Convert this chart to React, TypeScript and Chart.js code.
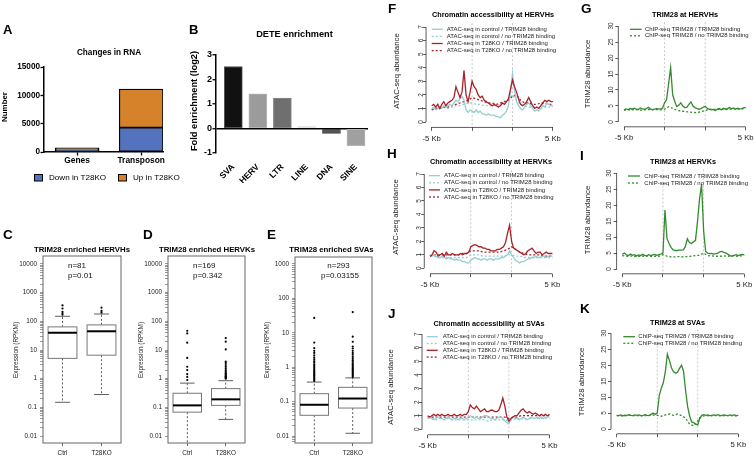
import React, { useEffect, useRef } from 'react';
import { Chart, registerables } from 'chart.js';

Chart.register(...registerables);

const W = 754;
const H = 458;
const FF = '"Liberation Sans", Arial, Helvetica, sans-serif';

// ---------------- Panel A : Changes in RNA ----------------
const rnaCategories = ['Genes', 'Transposon'];
const rnaDown = [300, 4300];
const rnaUp = [420, 6800];
const rnaTicks = [0, 5000, 10000, 15000];
const rnaLegend = ['Down in T28KO', 'Up in T28KO'];

// ---------------- Panel B : DETE enrichment ----------------
const teFamilies = ['SVA', 'HERV', 'LTR', 'LINE', 'DNA', 'SINE'];
const teEnrichment = [2.53, 1.42, 1.24, 0.1, -0.2, -0.7];
const teColors = ['#111111', '#9b9b9b', '#6f6f6f', '#dcdcdc', '#555555', '#a0a0a0'];
const teTicks = [-1, 0, 1, 2, 3];

// ---------------- Panels C-E : boxplots (lo, q1, median, q3, hi) ----------------
const boxGroups = ['Ctrl', 'T28KO'];
const hervhBoxCtrl = [0.15, 5.1, 40, 64, 150];
const hervhBoxKO = [0.28, 6.6, 45, 75, 180];
const hervhOutCtrl = [170, 190, 215, 280, 360];
const hervhOutKO = [200, 230, 300];
const hervkBoxCtrl = [0.003, 0.068, 0.117, 0.31, 0.7];
const hervkBoxKO = [0.038, 0.117, 0.19, 0.45, 0.85];
const hervkOutCtrl = [0.9, 1.15, 1.45, 2.0, 2.6, 5.3, 18, 38, 47];
const hervkOutKO = [1.0, 1.05, 1.1, 1.15, 1.2, 1.3, 1.4, 1.5, 1.6, 1.8, 2.0, 2.3, 2.6, 3.0, 3.5, 3.9, 10.5, 19.5, 26];
const svaBoxCtrl = [0.003, 0.04, 0.081, 0.17, 0.37];
const svaBoxKO = [0.012, 0.065, 0.123, 0.26, 0.49];
const svaOutCtrl = [0.4, 0.44, 0.48, 0.52, 0.56, 0.6, 0.65, 0.7, 0.76, 0.82, 0.9, 1.0, 1.1, 1.2, 1.35, 1.5, 1.7, 1.9, 2.2, 2.6, 3.0, 3.6, 5.2, 27];
const svaOutKO = [0.52, 0.56, 0.6, 0.65, 0.7, 0.75, 0.8, 0.86, 0.92, 1.0, 1.1, 1.2, 1.3, 1.45, 1.6, 1.8, 2.0, 2.3, 2.6, 3.0, 3.5, 4.0, 5.5, 7.7, 40];
const logMajor = [0.01, 0.1, 1, 10, 100, 1000, 10000];
const logMajorLabels = ['0.01', '0.1', '1', '10', '100', '1000', '10000'];

// ---------------- Panels F-K : profiles ----------------
// x positions: 0 = -5 Kb, 20 = element start, 40 = element end, 60 = +5 Kb
const profileTickPos = [0, 20, 40, 60];
const profileTickLabels = ['-5 Kb', '', '', '5 Kb'];
const atacTicks = [0, 1, 2, 3, 4, 5, 6, 7];
const chipTicks = [0, 5, 10, 15, 20, 25, 30];
const atacLegend = [
  'ATAC-seq in control / TRIM28 binding',
  'ATAC-seq in control / no TRIM28 binding',
  'ATAC-seq in T28KO / TRIM28 binding',
  'ATAC-seq in T28KO / no TRIM28 binding',
];
const chipLegend = ['ChIP-seq TRIM28 / TRIM28 binding', 'ChIP-seq TRIM28 / no TRIM28 binding'];

// F (HERVH ATAC) solid series: 61 points, dotted: 31 points (every 2nd position)
const hervhCtrlBind = [1.0, 1.1, 0.9, 1.0, 1.1, 1.0, 1.2, 1.1, 1.2, 1.3, 1.2, 1.4, 1.6, 1.5, 1.7, 1.9, 1.6, 0.9, 0.7, 0.9, 0.8, 0.7, 0.9, 0.7, 0.8, 0.6, 0.6, 0.5, 0.6, 0.5, 0.5, 0.5, 0.4, 0.4, 0.3, 0.5, 0.6, 0.8, 1.2, 2.2, 3.6, 2.3, 1.5, 1.2, 1.0, 0.9, 1.1, 1.3, 1.4, 1.2, 1.0, 0.8, 0.9, 0.8, 1.0, 1.2, 1.1, 1.4, 1.3, 1.2, 1.2];
const hervhKoBind = [1.2, 1.3, 1.1, 1.3, 1.0, 1.3, 1.5, 1.2, 1.4, 1.5, 1.6, 1.8, 2.6, 2.2, 1.8, 2.2, 3.8, 2.0, 1.5, 2.2, 3.0, 2.6, 2.4, 2.0, 1.8, 1.9, 1.6, 1.5, 1.4, 1.3, 1.2, 1.3, 1.2, 1.1, 1.2, 1.4, 1.3, 1.5, 1.7, 2.4, 3.1, 2.6, 2.2, 1.7, 1.3, 1.2, 1.3, 1.5, 1.8, 1.5, 1.2, 1.0, 1.1, 1.0, 1.2, 1.4, 1.6, 1.5, 1.6, 1.5, 1.5];
const hervhCtrlNoBind = [0.9, 1.0, 1.0, 1.1, 1.0, 1.1, 1.2, 1.2, 1.3, 1.4, 1.4, 1.3, 1.3, 1.2, 1.2, 1.2, 1.2, 1.3, 1.4, 1.6, 2.0, 1.6, 1.3, 1.2, 1.1, 1.1, 1.1, 1.0, 1.1, 1.1, 1.1];
const hervhKoNoBind = [0.9, 1.0, 1.0, 1.1, 1.1, 1.2, 1.3, 1.4, 1.5, 1.6, 1.8, 1.7, 1.6, 1.5, 1.4, 1.4, 1.3, 1.4, 1.5, 1.6, 1.9, 2.0, 1.6, 1.4, 1.4, 1.3, 1.3, 1.4, 1.4, 1.3, 1.3];

// H (HERVK ATAC)
const hervkCtrlBind = [1.0, 0.9, 1.0, 0.9, 0.8, 0.8, 0.9, 0.8, 0.7, 0.8, 0.7, 0.7, 0.6, 0.7, 0.6, 0.6, 0.5, 0.5, 0.4, 0.4, 0.6, 0.7, 0.8, 0.7, 0.7, 0.6, 0.7, 0.7, 0.6, 0.7, 0.7, 0.6, 0.7, 0.7, 0.7, 0.8, 0.8, 0.9, 1.0, 1.3, 1.0, 0.8, 0.6, 0.5, 0.4, 0.5, 0.5, 0.6, 0.7, 0.7, 0.8, 0.8, 0.9, 0.8, 0.8, 0.9, 0.9, 0.8, 0.9, 0.9, 0.9];
const hervkKoBind = [0.9, 1.0, 1.3, 1.2, 0.9, 1.0, 1.1, 0.9, 1.2, 1.0, 1.0, 1.1, 1.0, 1.0, 1.0, 1.1, 1.0, 1.1, 1.1, 1.2, 1.6, 1.7, 1.75, 1.7, 1.6, 1.6, 1.5, 1.5, 1.4, 1.4, 1.3, 1.3, 1.3, 1.4, 1.4, 1.5, 1.6, 1.9, 2.6, 3.2, 2.0, 1.5, 1.4, 1.3, 1.2, 1.1, 1.0, 1.1, 1.3, 1.4, 1.5, 1.3, 1.1, 1.2, 1.2, 1.0, 1.1, 1.2, 1.1, 1.1, 1.1];
const hervkCtrlNoBind = [0.9, 0.9, 0.8, 0.8, 0.8, 0.8, 0.8, 0.8, 0.8, 0.8, 1.0, 1.0, 1.0, 0.9, 0.9, 0.9, 0.9, 0.9, 0.9, 1.0, 1.0, 0.9, 0.9, 0.8, 0.8, 0.8, 0.8, 0.8, 0.8, 0.8, 0.8];
const hervkKoNoBind = [0.9, 1.0, 1.0, 1.0, 1.0, 1.0, 1.0, 1.0, 1.1, 1.1, 1.3, 1.3, 1.3, 1.2, 1.2, 1.2, 1.2, 1.2, 1.3, 1.4, 1.6, 1.4, 1.2, 1.1, 1.0, 1.0, 1.0, 1.0, 0.9, 0.9, 0.9];

// J (SVA ATAC)
const svaCtrlBind = [0.8, 0.9, 0.8, 0.7, 0.8, 0.9, 0.8, 0.8, 0.7, 0.8, 0.9, 0.8, 0.7, 0.8, 0.8, 0.7, 0.8, 0.8, 0.7, 0.8, 0.9, 1.0, 0.9, 0.8, 0.9, 0.8, 0.8, 0.9, 1.0, 1.0, 0.9, 0.8, 0.8, 0.7, 0.8, 0.9, 0.9, 0.8, 0.6, 0.5, 0.4, 0.7, 0.9, 0.8, 0.8, 0.7, 0.8, 0.9, 0.8, 0.7, 0.8, 0.9, 0.8, 0.8, 0.9, 0.8, 0.9, 0.8, 0.9, 0.9, 0.9];
const svaKoBind = [1.0, 0.9, 1.0, 1.1, 1.0, 1.1, 1.0, 1.1, 1.0, 1.0, 1.1, 1.0, 1.0, 1.1, 1.0, 1.0, 1.1, 1.0, 1.1, 1.1, 1.3, 1.8, 1.6, 1.5, 1.7, 1.5, 1.3, 1.4, 1.5, 1.3, 1.3, 1.4, 1.4, 1.3, 1.3, 1.4, 1.8, 2.3, 1.7, 0.9, 0.6, 0.8, 0.9, 1.0, 1.0, 1.2, 1.4, 1.5, 1.3, 1.2, 1.3, 1.2, 1.1, 1.2, 1.1, 1.0, 1.1, 1.0, 1.1, 1.0, 1.1];
const svaCtrlNoBind = [0.8, 0.8, 0.7, 0.8, 0.7, 0.8, 0.7, 0.7, 0.7, 0.7, 0.7, 0.7, 0.7, 0.7, 0.7, 0.6, 0.7, 0.7, 0.7, 0.7, 0.6, 0.7, 0.8, 0.8, 0.7, 0.8, 0.8, 0.8, 0.8, 0.8, 0.8];
const svaKoNoBind = [0.9, 0.9, 0.9, 0.9, 0.9, 0.9, 0.9, 0.9, 0.9, 0.9, 0.9, 0.9, 0.9, 0.9, 0.9, 0.9, 0.9, 0.9, 0.9, 0.9, 0.8, 0.9, 0.9, 1.0, 1.0, 1.0, 1.0, 1.0, 1.0, 1.0, 1.0];

// G (HERVH TRIM28 ChIP)
const hervhChipBind = [3.8, 4.1, 3.9, 4.2, 4.0, 4.3, 4.0, 3.9, 4.4, 4.1, 4.0, 4.2, 4.6, 4.1, 3.9, 4.0, 4.2, 4.1, 4.0, 4.3, 6.0, 7.0, 12, 17, 8.5, 6.5, 4.8, 5.2, 6.0, 5.0, 4.5, 4.6, 5.5, 6.3, 5.0, 4.5, 4.2, 4.0, 4.2, 4.6, 4.9, 4.3, 4.0, 3.8, 3.9, 3.6, 4.0, 4.2, 3.8, 4.3, 4.0, 4.2, 4.5, 4.1, 4.4, 4.0, 4.3, 4.1, 4.2, 4.4, 4.6];
const hervhChipNoBind = [3.7, 3.8, 3.8, 3.9, 3.7, 3.8, 3.9, 3.8, 3.9, 3.8, 4.0, 4.8, 4.3, 3.7, 3.4, 3.3, 3.1, 3.0, 2.9, 3.2, 3.6, 4.0, 3.9, 3.9, 4.0, 3.9, 4.0, 4.1, 4.0, 4.1, 4.2];

// I (HERVK TRIM28 ChIP)
const hervkChipBind = [4.6, 5.0, 4.4, 4.2, 4.7, 4.3, 4.5, 4.1, 4.4, 4.2, 4.6, 4.3, 4.1, 4.5, 4.2, 4.4, 4.6, 4.3, 4.5, 4.7, 5.0, 18.5, 9.5, 8.0, 6.8, 6.0, 5.8, 5.8, 5.9, 5.9, 6.0, 7.0, 9.5, 8.3, 8.0, 8.5, 9.0, 15, 22, 26.5, 12, 5.5, 5.0, 4.8, 4.9, 4.7, 4.8, 5.0, 5.4, 5.5, 5.2, 5.0, 4.6, 4.2, 4.0, 4.3, 4.5, 4.2, 4.4, 4.6, 4.5];
const hervkChipNoBind = [4.2, 4.0, 4.1, 3.9, 4.0, 4.0, 4.1, 3.9, 4.0, 4.0, 4.5, 4.0, 3.8, 3.8, 3.9, 3.8, 3.9, 4.0, 4.2, 4.3, 5.0, 4.2, 4.1, 4.0, 4.0, 4.1, 4.0, 4.2, 4.0, 4.1, 4.2];

// K (SVA TRIM28 ChIP)
const svaChipBind = [4.3, 4.2, 4.4, 4.1, 4.3, 4.2, 4.5, 4.3, 4.2, 4.4, 4.3, 4.4, 4.2, 4.3, 4.5, 4.3, 4.2, 4.6, 5.0, 4.6, 5.0, 10.5, 12.8, 14.5, 18, 23.5, 21.5, 19.2, 18, 17.5, 17.8, 19, 20, 18, 12, 7, 4, 2.2, 2.0, 1.5, 1.3, 3.5, 4.3, 4.5, 4.3, 4.4, 4.2, 4.3, 4.4, 4.3, 4.5, 4.2, 4.3, 4.4, 4.3, 4.2, 4.4, 4.3, 4.4, 4.2, 4.3];
const svaChipNoBind = [4.2, 4.1, 4.2, 4.3, 4.2, 4.2, 4.1, 4.2, 4.3, 4.4, 4.3, 4.0, 4.4, 4.7, 4.3, 4.7, 4.2, 3.4, 1.5, 1.0, 2.6, 4.0, 4.2, 4.1, 4.2, 4.2, 4.1, 4.2, 4.2, 4.1, 4.2];

// ---------------- colours ----------------
const BLUE = 'rgb(84,114,190)';
const ORANGE = 'rgb(214,130,42)';
const LIGHTBLUE = 'rgb(150,205,212)';
const DARKRED = 'rgb(168,34,40)';
const GREEN = 'rgb(52,138,46)';

// ---------------- helpers ----------------
type Rect = { l: number; t: number; r: number; b: number };

function padFor(p: Rect, yW: number, xH: number) {
  return { left: p.l - yW, top: p.t, right: W - p.r, bottom: H - p.b - xH };
}
function fitY(w: number) {
  return (s: any) => {
    s.width = w;
    s.paddingTop = 0; s.paddingBottom = 0; s.paddingLeft = 0; s.paddingRight = 0;
  };
}
function fitX(h: number) {
  return (s: any) => {
    s.height = h;
    s.paddingTop = 0; s.paddingBottom = 0; s.paddingLeft = 0; s.paddingRight = 0;
  };
}
function setTicks(values: number[]) {
  return (s: any) => {
    s.ticks = values.map((v) => ({ value: v }));
  };
}
function txt(ctx: CanvasRenderingContext2D, t: string, x: number, y: number, size: number, o: any = {}) {
  ctx.save();
  ctx.font = `${o.bold ? 'bold ' : ''}${size}px ${FF}`;
  ctx.fillStyle = o.color || '#000';
  ctx.textAlign = o.align || 'center';
  ctx.textBaseline = o.base || 'alphabetic';
  ctx.translate(x, y);
  if (o.rot) ctx.rotate(o.rot);
  ctx.fillText(t, 0, 0);
  ctx.restore();
}
function seg(ctx: CanvasRenderingContext2D, x1: number, y1: number, x2: number, y2: number) {
  ctx.beginPath();
  ctx.moveTo(x1, y1);
  ctx.lineTo(x2, y2);
  ctx.stroke();
}
const ROT = -Math.PI / 2;
const baseOpts = {
  animation: false as const,
  responsive: false,
  maintainAspectRatio: false,
  events: [] as any[],
};

// ---------------- Panel A ----------------
function buildA(canvas: HTMLCanvasElement) {
  const plot = { l: 44, t: 67, r: 163, b: 152 };
  const yW = 40, xH = 18;
  const deco = {
    id: 'decoA',
    afterDraw(chart: any) {
      const ctx = chart.ctx;
      txt(ctx, 'A', 3, 34, 13, { bold: true, align: 'left' });
      txt(ctx, 'Changes in RNA', 109, 55, 8.2, { bold: true });
      txt(ctx, 'Number', 5, 107, 7.9, { bold: true, rot: ROT, base: 'middle' });
      const cols = [BLUE, ORANGE];
      const bx = [34.5, 118.5];
      const tx = [49, 133];
      rnaLegend.forEach((l, i) => {
        ctx.save();
        ctx.fillStyle = cols[i];
        ctx.fillRect(bx[i], 174.5, 8, 6.5);
        ctx.strokeStyle = '#000';
        ctx.lineWidth = 1;
        ctx.strokeRect(bx[i], 174.5, 8, 6.5);
        ctx.restore();
        txt(ctx, l, tx[i], 178, 8.1, { align: 'left', base: 'middle' });
      });
    },
  };
  return new Chart(canvas, {
    type: 'bar',
    data: {
      datasets: [
        {
          label: rnaLegend[0],
          data: rnaDown.map((v, i) => ({ x: i, y: v })),
          backgroundColor: BLUE, borderColor: '#000', borderWidth: 1.3, borderSkipped: false, barThickness: 44,
        },
        {
          label: rnaLegend[1],
          data: rnaUp.map((v, i) => ({ x: i, y: v })),
          backgroundColor: ORANGE, borderColor: '#000', borderWidth: 1.3, borderSkipped: false, barThickness: 44,
        },
      ],
    } as any,
    options: {
      ...baseOpts,
      layout: { padding: padFor(plot, yW, xH) },
      plugins: { legend: { display: false }, tooltip: { enabled: false } },
      scales: {
        x: {
          type: 'linear', stacked: true, offset: false, min: -0.516, max: 1.34, bounds: 'data',
          afterBuildTicks: setTicks([0, 1]), afterFit: fitX(xH),
          ticks: { callback: (v: any) => rnaCategories[v] ?? '', font: { family: FF, size: 8.4, weight: 'bold' }, color: '#000', padding: 0, autoSkip: false, maxRotation: 0 },
          grid: { offset: false, drawOnChartArea: false, tickLength: 3.5, tickColor: '#000', tickWidth: 1.3 },
          border: { color: '#000', width: 1.5 },
        },
        y: {
          type: 'linear', stacked: true, min: 0, max: 15000, bounds: 'data',
          afterBuildTicks: setTicks(rnaTicks), afterFit: fitY(yW),
          ticks: { callback: (v: any) => String(v), font: { family: FF, size: 8.2, weight: 'bold' }, color: '#000', padding: 0.5 },
          grid: { drawOnChartArea: false, tickLength: 3.5, tickColor: '#000', tickWidth: 1.3 },
          border: { color: '#000', width: 1.5 },
        },
      },
    } as any,
    plugins: [deco],
  });
}

// ---------------- Panel B ----------------
function buildB(canvas: HTMLCanvasElement) {
  const plot = { l: 216, t: 55, r: 368, b: 153 };
  const yW = 30, xH = 30;
  const deco = {
    id: 'decoB',
    afterDraw(chart: any) {
      const ctx = chart.ctx;
      txt(ctx, 'B', 189, 34, 13, { bold: true, align: 'left' });
      txt(ctx, 'DETE enrichment', 294.5, 37, 9.2, { bold: true });
      txt(ctx, 'Fold enrichment (log2)', 194, 101, 9.3, { bold: true, rot: ROT, base: 'middle' });
    },
  };
  return new Chart(canvas, {
    type: 'bar',
    data: {
      datasets: [
        {
          data: teEnrichment.map((v, i) => ({ x: i, y: v })),
          backgroundColor: teColors,
          borderColor: ['#555', '#b5b5b5', '#888', '#e8e8e8', '#444', '#b5b5b5'],
          borderWidth: 1, borderSkipped: false, barThickness: 18,
        },
      ],
    } as any,
    options: {
      ...baseOpts,
      layout: { padding: padFor(plot, yW, xH) },
      plugins: { legend: { display: false }, tooltip: { enabled: false } },
      scales: {
        x: {
          type: 'linear', offset: false, min: -0.706, max: 5.49, bounds: 'data',
          afterBuildTicks: setTicks([0, 1, 2, 3, 4, 5]), afterFit: fitX(xH),
          ticks: { callback: (v: any) => teFamilies[v] ?? '', font: { family: FF, size: 8.6, weight: 'bold' }, color: '#000', padding: 1, autoSkip: false, minRotation: 45, maxRotation: 45 },
          grid: { display: false, offset: false },
          border: { display: false },
        },
        y: {
          type: 'linear', min: -1, max: 3, bounds: 'data',
          afterBuildTicks: setTicks(teTicks), afterFit: fitY(yW),
          ticks: { font: { family: FF, size: 9, weight: 'bold' }, color: '#000', padding: 0.5 },
          grid: {
            drawOnChartArea: true,
            color: (c: any) => (c.tick && c.tick.value === 0 ? '#000' : 'rgba(0,0,0,0)'),
            lineWidth: 1.5, tickLength: 3.5, tickColor: '#000', tickWidth: 1.3,
          },
          border: { color: '#000', width: 1.5 },
        },
      },
    } as any,
    plugins: [deco],
  });
}

// ---------------- Panels C-E ----------------
function buildBox(canvas: HTMLCanvasElement, cfg: any) {
  const { plot, yMin, yMax, decades, stats, outliers, letter, letterX, title, titleX, ylabX, notes } = cfg;
  const yW = 30, xH = 20;
  const tickVals: number[] = [];
  const tickLabels: string[] = [];
  decades.forEach((d: number) => {
    for (let m = 1; m <= 9; m++) {
      const v = m * Math.pow(10, d);
      if (v >= yMin && v <= yMax) {
        tickVals.push(v);
        const mi = logMajor.findIndex((x) => Math.abs(x - v) / v < 1e-9);
        tickLabels.push(m === 1 && mi >= 0 ? logMajorLabels[mi] : '');
      }
    }
  });
  const deco = {
    id: 'decoBox',
    beforeDatasetsDraw(chart: any) {
      const { ctx, chartArea: ca, scales } = chart;
      const xs = scales.x, ys = scales.y;
      ctx.save();
      ctx.beginPath();
      ctx.rect(ca.left, ca.top, ca.right - ca.left, ca.bottom - ca.top);
      ctx.clip();
      stats.forEach((st: number[], gi: number) => {
        const pos = gi + 1;
        const cx = xs.getPixelForValue(pos);
        const bl = xs.getPixelForValue(pos - 0.37), br = xs.getPixelForValue(pos + 0.37);
        const cl = xs.getPixelForValue(pos - 0.19), cr = xs.getPixelForValue(pos + 0.19);
        const [lo, q1, med, q3, hi] = st.map((v) => ys.getPixelForValue(v));
        ctx.strokeStyle = '#333';
        ctx.lineWidth = 0.8;
        ctx.setLineDash([2, 2]);
        seg(ctx, cx, q1, cx, lo);
        seg(ctx, cx, q3, cx, hi);
        ctx.setLineDash([]);
        seg(ctx, cl, lo, cr, lo);
        seg(ctx, cl, hi, cr, hi);
        ctx.fillStyle = '#fff';
        ctx.fillRect(bl, q3, br - bl, q1 - q3);
        ctx.strokeStyle = '#777';
        ctx.lineWidth = 1;
        ctx.strokeRect(bl, q3, br - bl, q1 - q3);
        ctx.strokeStyle = '#000';
        ctx.lineWidth = 2;
        seg(ctx, bl, med, br, med);
      });
      ctx.restore();
      ctx.save();
      ctx.strokeStyle = '#666';
      ctx.lineWidth = 1;
      ctx.strokeRect(ca.left, ca.top, ca.right - ca.left, ca.bottom - ca.top);
      ctx.restore();
    },
    afterDraw(chart: any) {
      const ctx = chart.ctx;
      txt(ctx, letter, letterX, 239, 13.5, { bold: true, align: 'left' });
      txt(ctx, title, titleX, 252, 7.8, { bold: true });
      txt(ctx, 'Expression (RPKM)', ylabX, 350, 6.4, { rot: ROT, base: 'middle', color: '#222' });
      notes.forEach((n: any) => txt(ctx, n.t, n.x, n.y, 8, { align: n.align, color: '#111' }));
    },
  };
  const datasets = outliers.map((arr: number[], gi: number) => ({
    data: arr.map((v) => ({ x: gi + 1, y: v })),
    pointRadius: 1.1, backgroundColor: '#000', borderWidth: 0, showLine: false,
  }));
  return new Chart(canvas, {
    type: 'scatter',
    data: { datasets } as any,
    options: {
      ...baseOpts,
      layout: { padding: padFor(plot, yW, xH) },
      plugins: { legend: { display: false }, tooltip: { enabled: false } },
      scales: {
        x: {
          type: 'linear', min: 0.5, max: 2.5, bounds: 'data',
          afterBuildTicks: setTicks([1, 2]), afterFit: fitX(xH),
          ticks: { callback: (v: any) => boxGroups[v - 1] ?? '', font: { family: FF, size: 6.4 }, color: '#222', padding: 3, autoSkip: false, maxRotation: 0 },
          grid: { drawOnChartArea: false, tickLength: 3, tickColor: '#444', tickWidth: 0.8 },
          border: { display: false },
        },
        y: {
          type: 'logarithmic', min: yMin, max: yMax, bounds: 'data',
          afterBuildTicks: setTicks(tickVals), afterFit: fitY(yW),
          ticks: { callback: (_v: any, i: number) => tickLabels[i] ?? '', font: { family: FF, size: 6.4 }, color: '#222', padding: 3, autoSkip: false },
          grid: { drawOnChartArea: false, tickLength: 3, tickColor: '#555', tickWidth: 0.6 },
          border: { display: false },
        },
      },
    } as any,
    plugins: [deco],
  });
}

const buildC = (c: HTMLCanvasElement) =>
  buildBox(c, {
    plot: { l: 43, t: 256, r: 121, b: 443 }, yMin: Math.pow(10, -2.244), yMax: Math.pow(10, 4.279), decades: [-2, -1, 0, 1, 2, 3, 4],
    stats: [hervhBoxCtrl, hervhBoxKO], outliers: [hervhOutCtrl, hervhOutKO],
    letter: 'C', letterX: 3, title: 'TRIM28 enriched HERVHs', titleX: 82, ylabX: 16,
    notes: [{ t: 'n=81', x: 68, y: 268, align: 'left' }, { t: 'p=0.01', x: 68, y: 278, align: 'left' }],
  });
const buildD = (c: HTMLCanvasElement) =>
  buildBox(c, {
    plot: { l: 168, t: 256, r: 245, b: 443 }, yMin: Math.pow(10, -2.244), yMax: Math.pow(10, 4.279), decades: [-2, -1, 0, 1, 2, 3, 4],
    stats: [hervkBoxCtrl, hervkBoxKO], outliers: [hervkOutCtrl, hervkOutKO],
    letter: 'D', letterX: 143, title: 'TRIM28 enriched HERVKs', titleX: 207, ylabX: 141,
    notes: [{ t: 'n=169', x: 193, y: 268, align: 'left' }, { t: 'p=0.342', x: 193, y: 278, align: 'left' }],
  });
const buildE = (c: HTMLCanvasElement) =>
  buildBox(c, {
    plot: { l: 295, t: 257, r: 372, b: 443 }, yMin: Math.pow(10, -2.203), yMax: Math.pow(10, 3.203), decades: [-3, -2, -1, 0, 1, 2, 3],
    stats: [svaBoxCtrl, svaBoxKO], outliers: [svaOutCtrl, svaOutKO],
    letter: 'E', letterX: 267, title: 'TRIM28 enriched SVAs', titleX: 331.5, ylabX: 267,
    notes: [{ t: 'n=293', x: 338.5, y: 268, align: 'center' }, { t: 'p=0.03155', x: 340, y: 278, align: 'center' }],
  });

// ---------------- Panels F-K ----------------
function buildProfile(canvas: HTMLCanvasElement, cfg: any) {
  const { x0, dx, y0, dy, yMin, yMax, yTop, yTicks, series, letter, letterPos, title, titlePos, yTitle, yTitlePos, legend } = cfg;
  const xMin = -2.8, xMax = 62.4;
  const plot = { l: x0 + xMin * dx, r: x0 + xMax * dx, t: y0 - yMax * dy, b: y0 - yMin * dy };
  const yW = 30, xH = 22;
  const datasets = series.map((s: any) => ({
    data: s.values.map((v: number, i: number) => ({ x: i * s.step, y: v })),
    borderColor: s.color, borderWidth: 1.3, borderDash: s.dash || [], pointRadius: 0, tension: 0, fill: false,
  }));
  const deco = {
    id: 'decoProfile',
    beforeDatasetsDraw(chart: any) {
      const { ctx, chartArea: ca, scales } = chart;
      const xs = scales.x;
      ctx.save();
      ctx.strokeStyle = '#bdbdbd';
      ctx.lineWidth = 0.8;
      ctx.setLineDash([2, 2]);
      [20, 40].forEach((v) => {
        const px = xs.getPixelForValue(v);
        seg(ctx, px, ca.top, px, ca.bottom);
      });
      ctx.restore();
    },
    afterDraw(chart: any) {
      const { ctx, chartArea: ca, scales } = chart;
      const xs = scales.x, ys = scales.y;
      ctx.save();
      ctx.strokeStyle = '#333';
      ctx.lineWidth = 0.8;
      seg(ctx, xs.getPixelForValue(0), ca.bottom, xs.getPixelForValue(60), ca.bottom);
      seg(ctx, ca.left, ys.getPixelForValue(0), ca.left, ys.getPixelForValue(yTop));
      ctx.restore();
      txt(ctx, letter, letterPos[0], letterPos[1], 13.5, { bold: true, align: 'left' });
      txt(ctx, title, titlePos[0], titlePos[1], 7.3, { bold: true });
      txt(ctx, yTitle, yTitlePos[0], yTitlePos[1], 7.8, { rot: ROT, base: 'middle', color: '#222' });
      legend.entries.forEach((e: any, i: number) => {
        const y = legend.ys[i];
        ctx.save();
        ctx.strokeStyle = e.color;
        ctx.lineWidth = 1.3;
        ctx.setLineDash(e.dash || []);
        seg(ctx, legend.lx[0], y, legend.lx[1], y);
        ctx.restore();
        txt(ctx, e.label, legend.tx, y, 6, { align: 'left', base: 'middle', color: '#222' });
      });
    },
  };
  return new Chart(canvas, {
    type: 'line',
    data: { datasets } as any,
    options: {
      ...baseOpts,
      layout: { padding: padFor(plot, yW, xH) },
      plugins: { legend: { display: false }, tooltip: { enabled: false } },
      scales: {
        x: {
          type: 'linear', min: xMin, max: xMax, bounds: 'data',
          afterBuildTicks: setTicks(profileTickPos), afterFit: fitX(xH),
          ticks: { callback: (_v: any, i: number) => profileTickLabels[i] ?? '', font: { family: FF, size: 7.7 }, color: '#222', padding: 3, autoSkip: false, maxRotation: 0 },
          grid: { drawOnChartArea: false, tickLength: 3.5, tickColor: '#333', tickWidth: 0.8 },
          border: { display: false },
        },
        y: {
          type: 'linear', min: yMin, max: yMax, bounds: 'data',
          afterBuildTicks: setTicks(yTicks), afterFit: fitY(yW),
          ticks: { font: { family: FF, size: 6.4 }, color: '#333', padding: 0.5, minRotation: 90, maxRotation: 90, crossAlign: 'center', autoSkip: false },
          grid: { drawOnChartArea: false, tickLength: 3, tickColor: '#333', tickWidth: 0.8 },
          border: { display: false },
        },
      },
    } as any,
    plugins: [deco],
  });
}

const DOT = [2, 2];
const atacEntries = [
  { label: atacLegend[0], color: LIGHTBLUE },
  { label: atacLegend[1], color: LIGHTBLUE, dash: DOT },
  { label: atacLegend[2], color: DARKRED },
  { label: atacLegend[3], color: DARKRED, dash: DOT },
];
const chipEntries = [
  { label: chipLegend[0], color: GREEN },
  { label: chipLegend[1], color: GREEN, dash: DOT },
];
function atacSeries(ctrlBind: number[], koBind: number[], ctrlNo: number[], koNo: number[]) {
  return [
    { values: koBind, step: 1, color: DARKRED },
    { values: ctrlBind, step: 1, color: LIGHTBLUE },
    { values: koNo, step: 2, color: DARKRED, dash: DOT },
    { values: ctrlNo, step: 2, color: LIGHTBLUE, dash: DOT },
  ];
}
function chipSeries(bind: number[], nobind: number[]) {
  return [
    { values: bind, step: 1, color: GREEN },
    { values: nobind, step: 2, color: GREEN, dash: DOT },
  ];
}

const buildF = (c: HTMLCanvasElement) =>
  buildProfile(c, {
    x0: 431.7, dx: 2.02, y0: 122, dy: 13.57, yMin: -0.4, yMax: 7.28, yTop: 7, yTicks: atacTicks,
    series: atacSeries(hervhCtrlBind, hervhKoBind, hervhCtrlNoBind, hervhKoNoBind),
    letter: 'F', letterPos: [388, 12.5], title: 'Chromatin accessibility at HERVHs', titlePos: [493, 17],
    yTitle: 'ATAC-seq abundance', yTitlePos: [397, 71],
    legend: { entries: atacEntries, lx: [431.7, 442.7], tx: 446.7, ys: [29.3, 36.4, 43.5, 50.6] },
  });
const buildG = (c: HTMLCanvasElement) =>
  buildProfile(c, {
    x0: 624, dx: 2.028, y0: 122, dy: 3.2, yMin: -1.5, yMax: 31.2, yTop: 30, yTicks: chipTicks,
    series: chipSeries(hervhChipBind, hervhChipNoBind),
    letter: 'G', letterPos: [581, 13], title: 'TRIM28 at HERVHs', titlePos: [685, 17],
    yTitle: 'TRIM28 abundance', yTitlePos: [588, 74],
    legend: { entries: chipEntries, lx: [630, 641.7], tx: 645, ys: [29.3, 35.8] },
  });
const buildH = (c: HTMLCanvasElement) =>
  buildProfile(c, {
    x0: 430, dx: 2.04, y0: 268.3, dy: 13.47, yMin: -0.4, yMax: 7.28, yTop: 7, yTicks: atacTicks,
    series: atacSeries(hervkCtrlBind, hervkKoBind, hervkCtrlNoBind, hervkKoNoBind),
    letter: 'H', letterPos: [387, 158], title: 'Chromatin accessibility at HERVKs', titlePos: [491, 164],
    yTitle: 'ATAC-seq abundance', yTitlePos: [396, 217],
    legend: { entries: atacEntries, lx: [429, 440], tx: 444, ys: [175.7, 182.8, 189.9, 197] },
  });
const buildI = (c: HTMLCanvasElement) =>
  buildProfile(c, {
    x0: 622.3, dx: 2.033, y0: 269, dy: 3.19, yMin: -1.5, yMax: 31.2, yTop: 30, yTicks: chipTicks,
    series: chipSeries(hervkChipBind, hervkChipNoBind),
    letter: 'I', letterPos: [580, 160], title: 'TRIM28 at HERVKs', titlePos: [683, 164],
    yTitle: 'TRIM28 abundance', yTitlePos: [588, 220],
    legend: { entries: chipEntries, lx: [628, 640], tx: 644.3, ys: [176, 183] },
  });
const buildJ = (c: HTMLCanvasElement) =>
  buildProfile(c, {
    x0: 427.7, dx: 2.03, y0: 429.3, dy: 13.6, yMin: -0.4, yMax: 7.28, yTop: 7, yTicks: atacTicks,
    series: atacSeries(svaCtrlBind, svaKoBind, svaCtrlNoBind, svaKoNoBind),
    letter: 'J', letterPos: [388, 318], title: 'Chromatin accessibility at SVAs', titlePos: [489, 326],
    yTitle: 'ATAC-seq abundance', yTitlePos: [391, 387],
    legend: { entries: atacEntries, lx: [426.7, 437.7], tx: 442.7, ys: [336.7, 343.5, 350.3, 357.1] },
  });
const buildK = (c: HTMLCanvasElement) =>
  buildProfile(c, {
    x0: 616.7, dx: 2.027, y0: 429, dy: 3.19, yMin: -1.5, yMax: 31.2, yTop: 30, yTicks: chipTicks,
    series: chipSeries(svaChipBind, svaChipNoBind),
    letter: 'K', letterPos: [580, 313], title: 'TRIM28 at SVAs', titlePos: [677.5, 325],
    yTitle: 'TRIM28 abundance', yTitlePos: [582, 382],
    legend: { entries: chipEntries, lx: [623.3, 635], tx: 638.3, ys: [336.7, 343.3] },
  });

const builders = [buildA, buildB, buildC, buildD, buildE, buildF, buildG, buildH, buildI, buildJ, buildK];

export default function App() {
  const refs = useRef<(HTMLCanvasElement | null)[]>([]);
  useEffect(() => {
    document.body.style.margin = '0';
    const charts = builders.map((b, i) => b(refs.current[i] as HTMLCanvasElement));
    return () => charts.forEach((c) => c.destroy());
  }, []);
  return (
    <div style={{ position: 'absolute', left: 0, top: 0, width: W, height: H, background: '#fff', overflow: 'hidden' }}>
      {builders.map((_, i) => (
        <canvas
          key={i}
          ref={(el) => {
            refs.current[i] = el;
          }}
          width={W}
          height={H}
          style={{ position: 'absolute', left: 0, top: 0, width: W, height: H }}
        />
      ))}
    </div>
  );
}
